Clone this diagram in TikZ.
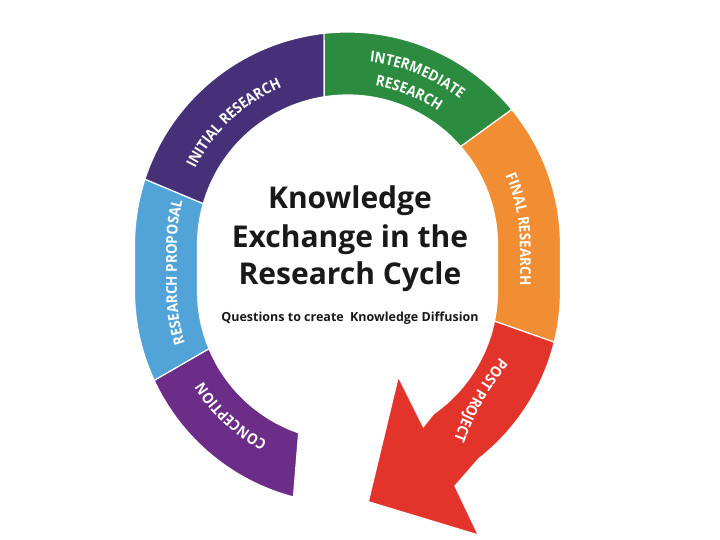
\documentclass[tikz,border=0pt]{standalone}
\usepackage{fontspec}
\setmainfont{Open Sans}
\newfontfamily\labfam[FakeStretch=0.9]{Open Sans}
\usetikzlibrary{decorations.text}
\definecolor{concC}{HTML}{6B2D87}
\definecolor{propC}{HTML}{52A4D8}
\definecolor{initC}{HTML}{463178}
\definecolor{interC}{HTML}{2B8C3F}
\definecolor{finalC}{HTML}{F18D32}
\definecolor{postC}{HTML}{E3342C}
\newcommand{\labf}{\labfam\bfseries\fontsize{15}{15}\selectfont\color{white}}
\tikzset{
  seg/.style={draw=white, line width=1.2pt},
  title/.style={font=\bfseries\fontsize{30}{31}\selectfont, anchor=base, inner sep=0pt, text=black!90},
  subt/.style={font=\bfseries\fontsize{12.5}{13}\selectfont, anchor=base, inner sep=0pt, text=black!90},
  lab/.style={decorate, decoration={text along path, text align=center, text={#1}}}
}
\begin{document}
\begin{tikzpicture}[x=1pt,y=1pt]
\useasboundingbox[fill=white] (-347.5,-295) rectangle (372.5,245);
\def\Ro{213pt}
\def\Ri{150pt}
% Conception
\path[seg, fill=concC] ([shift={(0,-46)}]255.3:\Ro) arc[start angle=255.3, end angle=204.8, radius=\Ro]
  -- ([shift={(0,-46)}]202.6:\Ri) arc[start angle=202.6, end angle=251, radius=\Ri] -- cycle;
% Research proposal
\path[seg, fill=propC] ([shift={(0,-46)}]204.8:\Ro) arc[start angle=204.8, end angle=180, radius=\Ro]
  -- (-213,0) arc[start angle=180, end angle=162, radius=\Ro]
  -- (164:\Ri) arc[start angle=164, end angle=180, radius=\Ri]
  -- (-150,-46) arc[start angle=180, end angle=202.6, radius=\Ri] -- cycle;
% Initial research
\path[seg, fill=initC] (162:\Ro) arc[start angle=162, end angle=96.3, radius=\Ro]
  -- (98.9:\Ri) arc[start angle=98.9, end angle=164, radius=\Ri] -- cycle;
% Intermediate research
\path[seg, fill=interC] (96.3:\Ro) arc[start angle=96.3, end angle=39.5, radius=\Ro]
  -- (41:\Ri) arc[start angle=41, end angle=98.9, radius=\Ri] -- cycle;
% Final research
\path[seg, fill=finalC] (39.5:\Ro) arc[start angle=39.5, end angle=0, radius=\Ro]
  -- (213,-46) arc[start angle=0, end angle=-13.9, radius=\Ro]
  -- ([shift={(0,-46)}]-11.6:\Ri) arc[start angle=-11.6, end angle=0, radius=\Ri]
  -- (150,0) arc[start angle=0, end angle=41, radius=\Ri] -- cycle;
% Post project arrow
\path[seg, fill=postC] ([shift={(0,-46)}]-13.9:\Ro) arc[start angle=-13.9, end angle=-52, radius=\Ro]
  -- (107.5,-241) -- (130.8,-290) -- (20.8,-256.7) -- (50.8,-131.7) -- (75.8,-181.7)
  -- ([shift={(0,-46)}]-55:\Ri) arc[start angle=-55, end angle=-11.6, radius=\Ri] -- cycle;
% Ring labels
\path[lab={|\labf|CONCEPTION}] ([shift={(0,-46)}]252:170.5pt) arc[start angle=252, end angle=202, radius=170.5pt];
\path[lab={|\labf|RESEARCH PROPOSAL}] ([shift={(0,-46)}]218:170.5pt) arc[start angle=218, end angle=180, radius=170.5pt]
  -- (-170.5,0) arc[start angle=180, end angle=145, radius=170.5pt];
\path[lab={|\labf|INITIAL RESEARCH}] (172:170.5pt) arc[start angle=172, end angle=94, radius=170.5pt];
\path[lab={|\labf|INTERMEDIATE}] (102:184.5pt) arc[start angle=102, end angle=33.5, radius=184.5pt];
\path[lab={|\labf|RESEARCH}] (102:161.5pt) arc[start angle=102, end angle=34, radius=161.5pt];
\path[lab={|\labf|FINAL RESEARCH}] (42:172.5pt) arc[start angle=42, end angle=0, radius=172.5pt]
  -- (172.5,-46) arc[start angle=0, end angle=-16.5, radius=172.5pt];
\path[lab={|\labf|POST PROJECT}] (166.7,-96.2) to[bend right=12] (99.6,-215.7);
% Title
\node[title] (t1) at (2.5,36.7) {Knowledge};
\node[title] (t2) at (2.5,-2.3) {Exchange in the};
\node[title] (t3) at (2.5,-40) {Research Cycle};
\node[subt] (t4) at (2.5,-76.7) {Questions to create\enspace Knowledge Diffusion};
\end{tikzpicture}
\end{document}
